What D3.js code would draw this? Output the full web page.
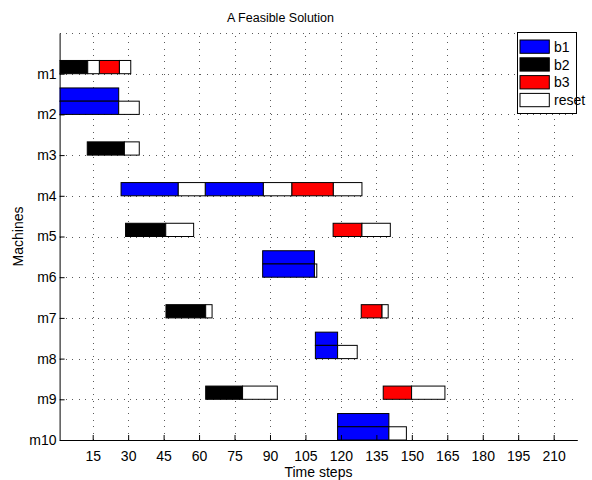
<!DOCTYPE html>
<html>
<head>
<meta charset="utf-8">
<script src="https://cdn.jsdelivr.net/npm/d3@7/dist/d3.min.js"></script>
<style>
  html, body { margin: 0; padding: 0; background: #fff; }
  svg { display: block; font-family: "Liberation Sans", Arial, Helvetica, sans-serif; }
</style>
</head>
<body>
<svg id="chart" width="592" height="480"></svg>
<script>
// Machine names (row 1 at the top) and time-axis tick values
const machines = ["m1", "m2", "m3", "m4", "m5", "m6", "m7", "m8", "m9", "m10"];
const timeTicks = [15, 30, 45, 60, 75, 90, 105, 120, 135, 150, 165, 180, 195, 210];

// Task segments: [machine number, lane (0 = lower, 1 = upper), start, end]
const b1 = [
  [2, 1, 0, 26.0], [2, 0, 0, 26.0],
  [4, 0, 27.0, 51.2], [4, 0, 62.6, 87.2],
  [6, 1, 86.9, 108.8], [6, 0, 86.9, 108.8],
  [8, 1, 109.2, 118.6], [8, 0, 109.2, 118.6],
  [10, 1, 118.6, 140.3], [10, 0, 118.6, 140.3]
];
const b2 = [
  [1, 0, 0, 12.9], [3, 0, 12.7, 28.4], [5, 0, 28.9, 45.9],
  [7, 0, 46.0, 62.8], [9, 0, 62.8, 78.4]
];
const b3 = [
  [1, 0, 17.8, 26.3], [4, 0, 99.2, 116.8], [5, 0, 116.7, 128.9],
  [7, 0, 128.6, 137.4], [9, 0, 137.9, 149.9]
];
const reset = [
  [1, 0, 12.9, 17.8], [1, 0, 26.3, 31.1], [2, 0, 26.0, 34.7], [3, 0, 28.4, 34.7],
  [4, 0, 51.2, 62.6], [4, 0, 87.2, 99.2], [4, 0, 116.8, 128.9],
  [5, 0, 45.9, 57.7], [5, 0, 128.9, 140.9], [6, 0, 108.8, 109.8],
  [7, 0, 62.8, 65.5], [7, 0, 137.4, 140.0], [8, 0, 118.6, 126.9],
  [9, 0, 78.4, 93.1], [9, 0, 149.9, 164.0], [10, 0, 140.3, 147.7]
];

const series = [
  { name: "b1", color: "#0000ff", data: b1 },
  { name: "b2", color: "#000000", data: b2 },
  { name: "b3", color: "#ff0000", data: b3 },
  { name: "reset", color: "#ffffff", data: reset }
];

const svg = d3.select("#chart");
const plotL = 59.6, plotR = 577.3, plotT = 33, plotB = 440;
const laneH = 0.325;

const x = d3.scaleLinear().domain([1, 220]).range([plotL, plotR]);
const y = d3.scaleLinear().domain([0, 10]).range([plotT, plotB]);

svg.append("defs").append("clipPath").attr("id", "plotClip")
  .append("rect").attr("x", plotL).attr("y", plotT)
  .attr("width", plotR - plotL).attr("height", plotB - plotT);

// dotted grid
const grid = svg.append("g").attr("stroke", "#5a5a5a").attr("stroke-width", 1)
  .attr("stroke-dasharray", "1,5.4").attr("shape-rendering", "crispEdges");
grid.selectAll("line.v").data(timeTicks).join("line").attr("class", "v")
  .attr("x1", d => Math.round(x(d)) + 0.5).attr("x2", d => Math.round(x(d)) + 0.5)
  .attr("y1", plotB).attr("y2", plotT);
grid.selectAll("line.h").data(d3.range(0, 10)).join("line").attr("class", "h")
  .attr("x1", plotL).attr("x2", plotR)
  .attr("y1", d => Math.round(y(d)) + 0.5).attr("y2", d => Math.round(y(d)) + 0.5);

// bars
const bars = svg.append("g").attr("clip-path", "url(#plotClip)");
series.forEach(s => {
  bars.append("g").selectAll("rect").data(s.data).join("rect")
    .attr("x", d => x(d[2]))
    .attr("width", d => x(d[3]) - x(d[2]))
    .attr("y", d => y(d[0] - laneH * (d[1] + 1)))
    .attr("height", y(laneH) - y(0))
    .attr("fill", s.color)
    .attr("stroke", "#000").attr("stroke-width", 1);
});

// axes
const xAxis = d3.axisBottom(x).tickValues(timeTicks).tickSizeInner(-5).tickSizeOuter(0).tickPadding(11.5);
const gx = svg.append("g").attr("transform", `translate(0,${plotB})`).call(xAxis);
gx.select(".domain").attr("stroke", "#000");
gx.selectAll("text").attr("font-size", 14).attr("fill", "#000")
  .attr("font-family", "'Liberation Sans', Arial, sans-serif");

const yAxis = d3.axisLeft(y).tickValues(d3.range(1, 11)).tickFormat(d => machines[d - 1])
  .tickSizeInner(-5).tickSizeOuter(0).tickPadding(3);
const gy = svg.append("g").attr("transform", `translate(${plotL},0)`).call(yAxis);
gy.select(".domain").attr("stroke", "#000");
gy.selectAll("text").attr("font-size", 14).attr("fill", "#000")
  .attr("font-family", "'Liberation Sans', Arial, sans-serif");

// title and axis labels
svg.append("text").attr("x", 280.5).attr("y", 21.5).attr("text-anchor", "middle")
  .attr("font-size", 12.5).text("A Feasible Solution");
svg.append("text").attr("x", (plotL + plotR) / 2).attr("y", 477).attr("text-anchor", "middle")
  .attr("font-size", 14).text("Time steps");
svg.append("text").attr("transform", `translate(23,${(plotT + plotB) / 2}) rotate(-90)`)
  .attr("text-anchor", "middle").attr("font-size", 14).text("Machines");

// legend
const lg = svg.append("g");
lg.append("rect").attr("x", 517.5).attr("y", 32.5).attr("width", 59).attr("height", 81)
  .attr("fill", "#fff").attr("stroke", "#000").attr("stroke-width", 1);
const items = lg.selectAll("g.item").data(series).join("g").attr("class", "item")
  .attr("transform", (d, i) => `translate(520,${40 + i * 17.8})`);
items.append("rect").attr("width", 29.3).attr("height", 13.3)
  .attr("fill", d => d.color).attr("stroke", "#000").attr("stroke-width", 1);
items.append("text").attr("x", 34).attr("y", 11.8).attr("font-size", 14).text(d => d.name);
</script>
</body>
</html>
